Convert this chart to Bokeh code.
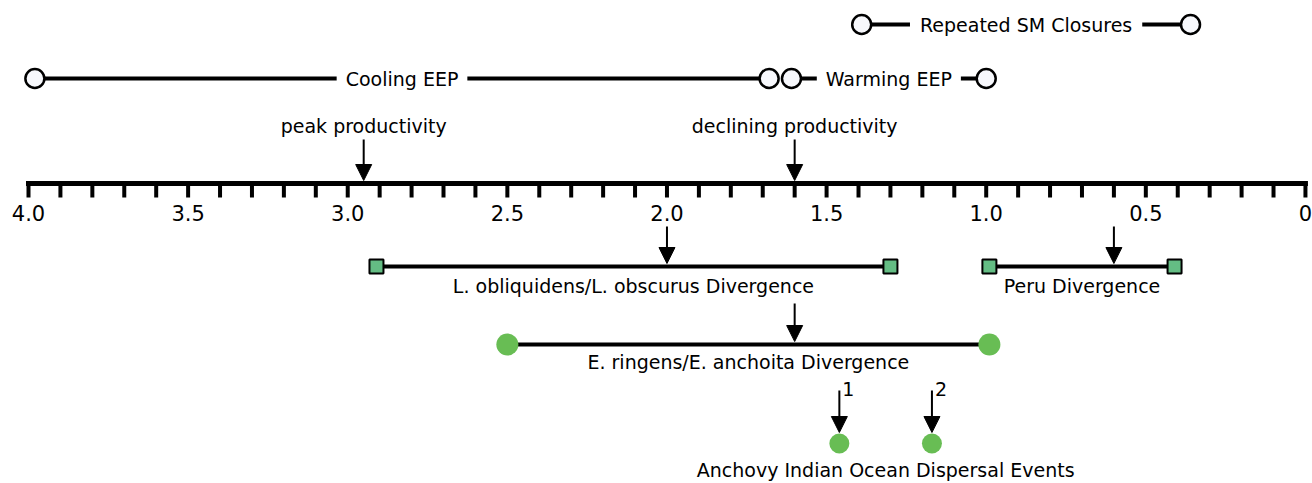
import numpy as np
from bokeh.plotting import figure
from bokeh.models import Range1d, Arrow, NormalHead, Label
from bokeh.core.properties import value
from bokeh.embed import file_html
from bokeh.resources import INLINE

# ---------------- data (Ma) ----------------
sm_label = "Repeated SM Closures"
sm_start = 1.39
sm_end = 0.36

eep_labels = ["Cooling EEP", "Warming EEP"]
eep_start = [3.98, 1.61]
eep_end = [1.68, 1.00]

prod_labels = ["peak productivity", "declining productivity"]
prod_x = [2.95, 1.60]

sq_labels = ["L. obliquidens/L. obscurus Divergence", "Peru Divergence"]
sq_start = [2.91, 0.99]
sq_end = [1.30, 0.41]
sq_mark = [2.00, 0.60]

er_label = "E. ringens/E. anchoita Divergence"
er_start = 2.50
er_end = 0.99
er_mark = 1.60

disp_label = "Anchovy Indian Ocean Dispersal Events"
disp_x = [1.46, 1.17]
disp_num = ["1", "2"]

tick_values = [round(v, 1) for v in np.arange(0.0, 4.0001, 0.1)]
label_values = [4.0, 3.5, 3.0, 2.5, 2.0, 1.5, 1.0, 0.5, 0.0]
label_texts = ["4.0", "3.5", "3.0", "2.5", "2.0", "1.5", "1.0", "0.5", "0"]

# ---------------- layout ----------------
W, H = 1312, 483
FONT = value("DejaVu Sans")
FS = "19px"
SM_Y, EEP_Y = 24, 78
PROD_T, AX_Y = 125, 183
TICK_END, TLAB_Y = 197, 212
SQ_Y, SQ_T = 266, 285
ER_Y, ER_T = 344, 361
D_Y, D_T = 443, 469

p = figure(width=W, height=H, output_backend="svg", toolbar_location=None,
           x_range=Range1d(4.0877, -0.0221), y_range=Range1d(H, 0),
           min_border=0, outline_line_color=None)
p.axis.visible = False
p.grid.visible = False

def head():
    return NormalHead(size=16, line_color="black", line_width=1, fill_color="black")

def arrow(x, y0, y1):
    p.add_layout(Arrow(end=head(), x_start=x, y_start=y0, x_end=x, y_end=y1,
                       line_width=2, line_color="black"))

def label(x, y, t, pad=0, bg=None, align="center"):
    p.add_layout(Label(x=x, y=y, text=t, text_align=align, text_baseline="middle",
                       text_font="DejaVu Sans", text_font_size=FS, text_color="black",
                       background_fill_color=bg, padding=pad))

open_kw = dict(size=19, fill_color="#f7f8fc", line_color="black", line_width=2.5)

# Repeated SM closures
p.line([sm_start, sm_end], [SM_Y, SM_Y], line_width=4, line_color="black")
label((sm_start + sm_end) / 2, SM_Y, sm_label, pad=10, bg="white")
p.scatter([sm_start, sm_end], [SM_Y, SM_Y], marker="circle", **open_kw)

# EEP
for s, e, t in zip(eep_start, eep_end, eep_labels):
    p.line([s, e], [EEP_Y, EEP_Y], line_width=4, line_color="black")
    label((s + e) / 2, EEP_Y, t, pad=9, bg="white")
for s, e in zip(eep_start, eep_end):
    p.scatter([s, e], [EEP_Y, EEP_Y], marker="circle", **open_kw)

# productivity
for x, t in zip(prod_x, prod_labels):
    label(x, PROD_T, t)
    arrow(x, PROD_T + 14, AX_Y - 3)

# time axis
p.line([4.0, 0.0], [AX_Y, AX_Y], line_width=5, line_color="black", line_cap="square")
p.segment(x0=tick_values, y0=[AX_Y] * len(tick_values), x1=tick_values,
          y1=[TICK_END] * len(tick_values), line_width=4, line_color="black")
p.text(x=label_values, y=[TLAB_Y] * len(label_values), text=label_texts,
       text_align="center", text_baseline="middle", text_font=FONT,
       text_font_size="21px", text_color="black")

# square-ended divergences
for s, e, m, t in zip(sq_start, sq_end, sq_mark, sq_labels):
    p.line([s, e], [SQ_Y, SQ_Y], line_width=4, line_color="black")
    arrow(m, SQ_Y - 40, SQ_Y - 3)
    label((s + e) / 2, SQ_T, t)
p.scatter(sq_start + sq_end, [SQ_Y] * 4, marker="square", size=14,
          fill_color="#64bd84", line_color="black", line_width=2)

# E. ringens
p.line([er_start, er_end], [ER_Y, ER_Y], line_width=4, line_color="black")
arrow(er_mark, ER_Y - 41, ER_Y - 3)
label((er_start + er_end) / 2, ER_T, er_label)
p.scatter([er_start, er_end], [ER_Y, ER_Y], marker="circle", size=22,
          fill_color="#68bd54", line_color=None)

# dispersal events
for x in disp_x:
    arrow(x, D_Y - 53, D_Y - 11)
p.text(x=disp_x, y=[D_Y - 55] * 2, text=disp_num, x_offset=3,
       text_align="left", text_baseline="middle", text_font=FONT,
       text_font_size=FS, text_color="black")
p.scatter(disp_x, [D_Y] * 2, marker="circle", size=20,
          fill_color="#68bd54", line_color=None)
label(sum(disp_x) / 2, D_T, disp_label)

open("out.html", "w").write(file_html(p, INLINE))
